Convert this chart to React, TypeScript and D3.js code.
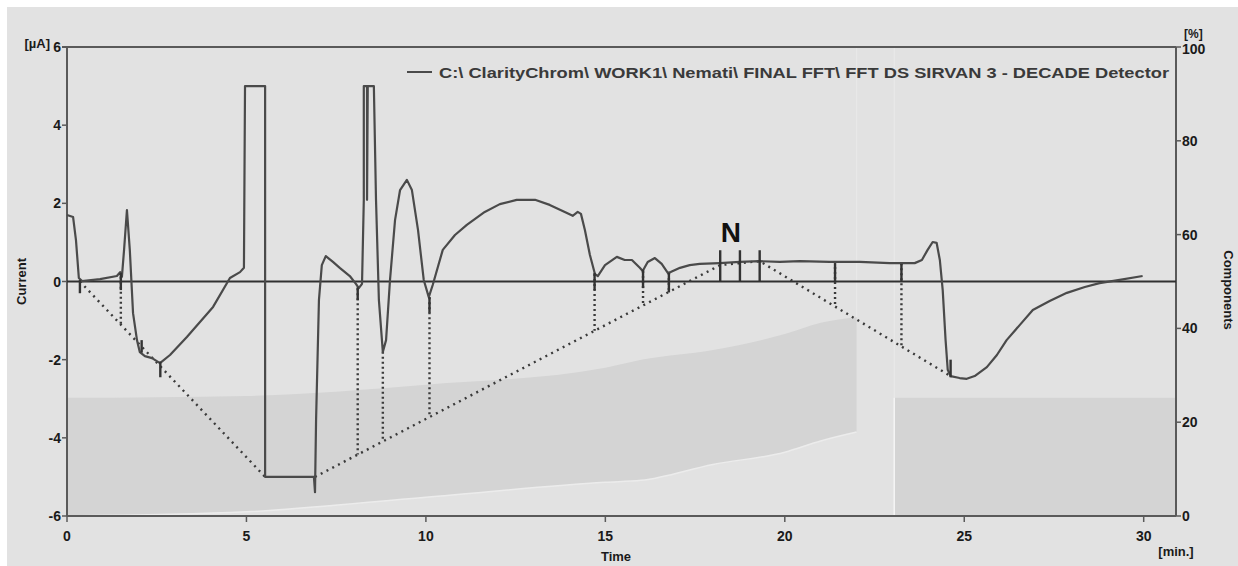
import React from 'react';
import * as d3 from 'd3';

const W = 1238;
const H = 566;
const PLOT = { left: 67, right: 1176, top: 47, bottom: 516 };

const timeTicks = [0, 5, 10, 15, 20, 25, 30];
const currentTicks = [-6, -4, -2, 0, 2, 4, 6];
const componentTicks = [0, 20, 40, 60, 80, 100];

const legendText = 'C:\\ ClarityChrom\\ WORK1\\ Nemati\\ FINAL FFT\\ FFT DS SIRVAN 3 - DECADE Detector';

const signalTime = [
  0.0, 0.17, 0.25, 0.33, 0.42, 0.92, 1.39, 1.48, 1.53, 1.59, 1.67, 1.75, 1.84, 1.95, 2.03, 2.17, 2.37, 2.59, 2.87, 3.34,
  4.07, 4.54, 4.82, 4.93, 4.96, 5.52, 5.52, 6.88, 6.91, 6.94, 7.02, 7.1, 7.21, 7.41, 7.6, 7.88, 8.05, 8.13, 8.22, 8.27,
  8.27, 8.36, 8.36, 8.38, 8.55, 8.61, 8.69, 8.8, 8.89, 9.0, 9.14, 9.28, 9.47, 9.61, 9.78, 9.94, 10.08, 10.19, 10.47, 10.81,
  11.14, 11.64, 12.06, 12.53, 13.04, 13.45, 13.93, 14.09, 14.23, 14.32, 14.43, 14.57, 14.71, 14.79, 14.99, 15.32, 15.54,
  15.74, 15.96, 16.04, 16.18, 16.38, 16.57, 16.74, 16.82, 17.08, 17.35, 17.63, 18.19, 18.75, 19.3, 19.86, 20.42, 21.25,
  22.09, 22.92, 23.62, 23.82, 23.98, 24.12, 24.23, 24.32, 24.4, 24.48, 24.54, 24.62, 24.87, 25.07, 25.29, 25.63, 25.91,
  26.18, 26.55, 26.91, 27.38, 27.86, 28.36, 28.77, 29.33, 29.97,
];
const signalCurrent = [
  1.7, 1.65, 1.06, 0.09, 0.01, 0.06, 0.14, 0.24, 0.12, 0.81, 1.83, 0.81, -0.81, -1.5, -1.81, -1.91, -1.96, -2.09, -1.88, -1.42,
  -0.65, 0.09, 0.24, 0.35, 5.0, 5.0, -5.0, -5.0, -5.39, -3.54, -0.47, 0.42, 0.65, 0.5, 0.35, 0.14, -0.06, -0.17, -0.06, 2.09,
  5.0, 5.0, 2.09, 5.0, 5.0, 2.09, -0.47, -1.8, -1.5, 0.04, 1.57, 2.34, 2.6, 2.34, 1.32, 0.04, -0.4, -0.09, 0.81, 1.19,
  1.45, 1.78, 1.98, 2.09, 2.09, 1.96, 1.75, 1.68, 1.78, 1.73, 1.32, 0.68, 0.19, 0.14, 0.42, 0.63, 0.55,
  0.55, 0.35, 0.27, 0.5, 0.6, 0.45, 0.22, 0.24, 0.35, 0.42, 0.45, 0.47, 0.5, 0.52, 0.5, 0.52, 0.5,
  0.5, 0.47, 0.47, 0.55, 0.81, 1.01, 0.99, 0.55, -0.22, -1.5, -2.26, -2.42, -2.47, -2.49, -2.42, -2.19, -1.88,
  -1.5, -1.11, -0.73, -0.5, -0.29, -0.14, -0.04, 0.04, 0.14,
];

// Composition gradient band (%)
const gradientTime = [0, 5, 10, 15, 16, 18, 20, 21, 22];
const gradientUpper = [25.2, 25.6, 28, 31.6, 33.3, 35.4, 38.8, 41.2, 42.4];
const gradientLower = [0, 0.9, 4, 7.2, 7.6, 11, 13.6, 16, 17.9];
const holdTime = [23.05, 30.9];
const holdLevel = [25.2, 25.2];

// Integration baselines
const baselineATime = [0.36, 5.52];
const baselineACurrent = [0, -5.0];
const baselineBTime = [6.91, 18.2, 19.3, 24.62];
const baselineBCurrent = [-5.0, 0.42, 0.52, -2.42];

// Dotted drop lines: time and signal value at top
const dropTime = [1.5, 8.1, 8.8, 10.1, 14.7, 16.05, 16.77, 21.4, 23.25];
const dropTop = [0.12, -0.17, -1.8, -0.4, 0.19, 0.27, 0.22, 0.5, 0.47];

// Peak boundary markers: time, top, bottom (µA)
const markerTime = [0.36, 1.5, 2.08, 2.6, 8.1, 10.1, 14.7, 16.05, 16.77, 18.2, 18.75, 19.3, 21.4, 23.25, 24.62];
const markerTop = [0.04, 0.22, -1.5, -2.05, -0.15, -0.4, 0.22, 0.3, 0.22, 0.8, 0.8, 0.8, 0.45, 0.45, -2.0];
const markerBottom = [-0.3, -0.22, -1.82, -2.45, -0.48, -0.8, -0.22, -0.17, -0.28, 0, 0, 0, 0, 0, -2.45];

const peakLabel = 'N';
const peakLabelTime = 18.5;
const peakLabelCurrent = 1.0;

const FONT = '"Liberation Sans", Arial, sans-serif';

function interp(ts: number[], vs: number[], t: number) {
  return d3.scaleLinear().domain(ts).range(vs).clamp(true)(t);
}

export default function App() {
  const x = d3.scaleLinear().domain([0, 30.9]).range([PLOT.left, PLOT.right]);
  const y = d3.scaleLinear().domain([-6, 6]).range([PLOT.bottom, PLOT.top]);
  const y2 = d3.scaleLinear().domain([0, 100]).range([PLOT.bottom, PLOT.top]);

  const signalPts = signalTime.map((t, i) => [t, signalCurrent[i]] as [number, number]);
  const line = d3.line<[number, number]>().x(d => x(d[0])).y(d => y(d[1]));

  const bandIdx = gradientTime.map((_, i) => i);
  const band = d3
    .area<number>()
    .x(i => x(gradientTime[i]))
    .y0(i => y2(gradientLower[i]))
    .y1(i => y2(gradientUpper[i]))
    .curve(d3.curveMonotoneX);
  const lowerLine = d3.line<number>().x(i => x(gradientTime[i])).y(i => y2(gradientLower[i])).curve(d3.curveMonotoneX);

  const baseA = baselineATime.map((t, i) => [t, baselineACurrent[i]] as [number, number]);
  const baseB = baselineBTime.map((t, i) => [t, baselineBCurrent[i]] as [number, number]);

  const textColor = '#1a1a1a';
  const axisColor = '#5a5a5a';
  const tickFont = 14;

  return (
    <svg width={W} height={H} style={{ position: 'absolute', left: 0, top: 0, display: 'block' }} fontFamily={FONT}>
      <rect x={0} y={0} width={W} height={H} fill="#ffffff" />
      <rect x={7} y={7} width={W - 7} height={H - 7} fill="#e2e2e2" />

      {/* gradient shading */}
      <path d={band(bandIdx) || ''} fill="#d4d4d4" />
      <path d={lowerLine(bandIdx) || ''} fill="none" stroke="#ececec" strokeWidth={1.5} />
      <line x1={x(gradientTime[gradientTime.length - 1])} x2={x(gradientTime[gradientTime.length - 1])} y1={PLOT.top} y2={y2(gradientUpper[gradientUpper.length - 1])} stroke="#e9e9e9" strokeWidth={1} />
      <rect x={x(holdTime[0])} y={y2(holdLevel[0])} width={x(holdTime[1]) - x(holdTime[0])} height={y2(0) - y2(holdLevel[0])} fill="#d4d4d4" />
      <line x1={x(holdTime[0])} x2={x(holdTime[0])} y1={PLOT.top} y2={PLOT.bottom} stroke="#eaeaea" strokeWidth={1} />
      <line x1={x(holdTime[0])} x2={x(holdTime[0])} y1={y2(holdLevel[0])} y2={PLOT.bottom} stroke="#f4f4f4" strokeWidth={1.5} />

      {/* frame */}
      <line x1={PLOT.left - 5} x2={PLOT.right} y1={PLOT.top} y2={PLOT.top} stroke={axisColor} strokeWidth={2} />
      <line x1={PLOT.left} x2={PLOT.left} y1={PLOT.top} y2={PLOT.bottom} stroke={axisColor} strokeWidth={2} />
      <line x1={PLOT.right} x2={PLOT.right} y1={PLOT.top} y2={PLOT.bottom} stroke={axisColor} strokeWidth={2} />
      <line x1={PLOT.left} x2={PLOT.right} y1={PLOT.bottom} y2={PLOT.bottom} stroke={axisColor} strokeWidth={2} />

      {/* zero line */}
      <line x1={PLOT.left} x2={PLOT.right} y1={y(0)} y2={y(0)} stroke="#303030" strokeWidth={2} />

      {/* baselines */}
      <path d={line(baseA) || ''} fill="none" stroke="#3a3a3a" strokeWidth={2.4} strokeDasharray="2 4.5" />
      <path d={line(baseB) || ''} fill="none" stroke="#3a3a3a" strokeWidth={2.4} strokeDasharray="2 4.5" />
      {dropTime.map((t, i) => {
        const bottom = t < 6 ? interp(baselineATime, baselineACurrent, t) : interp(baselineBTime, baselineBCurrent, t);
        return (
          <line key={'d' + i} x1={x(t)} x2={x(t)} y1={y(dropTop[i])} y2={y(bottom)} stroke="#3a3a3a" strokeWidth={2.4} strokeDasharray="2 3" />
        );
      })}

      {/* signal */}
      <path d={line(signalPts) || ''} fill="none" stroke="#4a4a4a" strokeWidth={2.2} strokeLinejoin="round" />

      {/* markers */}
      {markerTime.map((t, i) => (
        <line key={'m' + i} x1={x(t)} x2={x(t)} y1={y(markerTop[i])} y2={y(markerBottom[i])} stroke="#333" strokeWidth={2.4} />
      ))}

      <text x={x(peakLabelTime)} y={y(peakLabelCurrent)} textAnchor="middle" fontSize={28} fontWeight="bold" fill="#111">
        {peakLabel}
      </text>

      {/* legend */}
      <line x1={407} x2={432} y1={72} y2={72} stroke="#4a4a4a" strokeWidth={2} />
      <text x={439} y={78} fontSize={15} fontWeight="bold" fill="#3a3a3a" textLength={730} lengthAdjust="spacingAndGlyphs">
        {legendText}
      </text>

      {/* left axis */}
      {currentTicks.map(v => (
        <g key={'l' + v}>
          <line x1={PLOT.left - 5} x2={PLOT.left} y1={y(v)} y2={y(v)} stroke={axisColor} strokeWidth={1.5} />
          <text x={PLOT.left - 6} y={y(v) + 5} textAnchor="end" fontSize={tickFont} fontWeight="bold" fill={textColor}>
            {v}
          </text>
        </g>
      ))}
      <text x={50} y={48} textAnchor="end" fontSize={13} fontWeight="bold" fill={textColor}>[µA]</text>

      {/* right axis */}
      {componentTicks.map(v => (
        <g key={'r' + v}>
          <line x1={PLOT.right} x2={PLOT.right + 5} y1={y2(v)} y2={y2(v)} stroke={axisColor} strokeWidth={1.5} />
          <text x={PLOT.right + 6} y={y2(v) + (v === 100 ? 7 : 5)} textAnchor="start" fontSize={tickFont} fontWeight="bold" fill={textColor}>
            {v}
          </text>
        </g>
      ))}
      <text x={1184} y={38} fontSize={12} fontWeight="bold" fill={textColor}>[%]</text>

      {/* bottom axis */}
      {timeTicks.map(v => (
        <g key={'b' + v}>
          <line x1={x(v)} x2={x(v)} y1={PLOT.bottom} y2={PLOT.bottom + 6} stroke={axisColor} strokeWidth={1.5} />
          <text x={x(v)} y={PLOT.bottom + 25} textAnchor="middle" fontSize={tickFont} fontWeight="bold" fill={textColor}>
            {v}
          </text>
        </g>
      ))}

      <text x={616} y={561} textAnchor="middle" fontSize={13} fontWeight="bold" fill={textColor}>Time</text>
      <text x={1176} y={556} textAnchor="middle" fontSize={13} fontWeight="bold" fill={textColor}>[min.]</text>
      <text transform={`translate(26, ${y(0)}) rotate(-90)`} textAnchor="middle" fontSize={13} fontWeight="bold" fill={textColor}>Current</text>
      <text transform={`translate(1224, 290) rotate(90)`} textAnchor="middle" fontSize={13} fontWeight="bold" fill={textColor}>Components</text>
    </svg>
  );
}
